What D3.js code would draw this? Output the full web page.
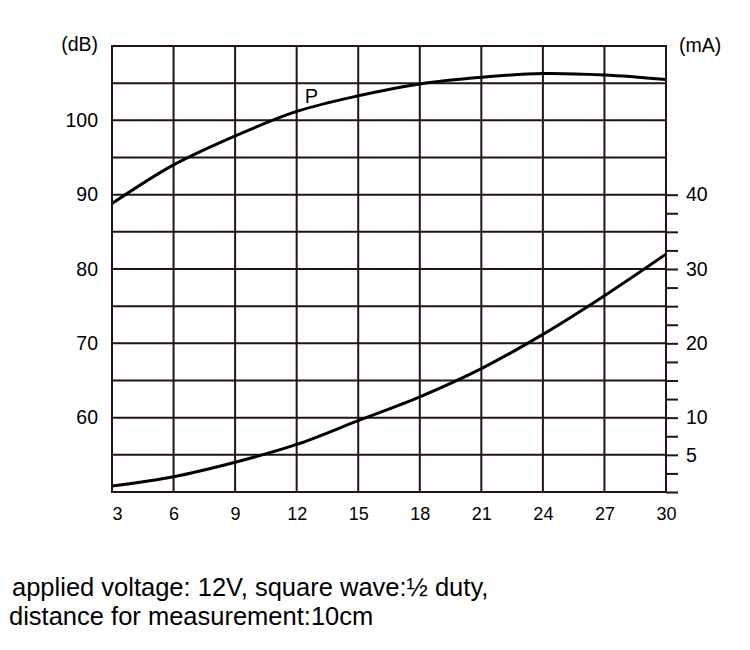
<!DOCTYPE html>
<html>
<head>
<meta charset="utf-8">
<script src="https://cdn.jsdelivr.net/npm/d3@7"></script>
<style>
  html, body { margin: 0; padding: 0; background: #fff; }
  svg { display: block; font-family: "Liberation Sans", Arial, Helvetica, sans-serif; }
</style>
</head>
<body>
<svg id="chart" width="750" height="650"></svg>
<script>
// ---- data ----
const voltage = [3, 6, 9, 12, 15, 18, 21, 24, 27, 30];
const splDb   = [88.8, 94.0, 97.9, 101.2, 103.3, 104.9, 105.8, 106.3, 106.1, 105.5];
const currentMa = [0.8, 2.05, 4.0, 6.4, 9.6, 12.8, 16.6, 21.2, 26.4, 32.0];
const xTicks = [3, 6, 9, 12, 15, 18, 21, 24, 27, 30];
const dbTickLabels = [60, 70, 80, 90, 100];
const maTickLabels = [5, 10, 20, 30, 40];
const seriesLabel = "P";
const leftUnit = "(dB)";
const rightUnit = "(mA)";
const noteLine1 = "applied voltage: 12V, square wave:\u00BD duty,";
const noteLine2 = "distance for measurement:10cm";

// ---- layout ----
const svg = d3.select("#chart");
const L = 112, R = 666, T = 46, B = 492;
const gridColor = "#231319";
const FONT = "Liberation Sans, Arial, sans-serif";

const x = d3.scaleLinear().domain([3, 30]).range([L, R]);
const yDb = d3.scaleLinear().domain([50, 110]).range([B, T]);
const yMa = d3.scaleLinear().domain([0, 60]).range([B, T]);

// grid
const grid = svg.append("g");
grid.selectAll("line.v").data(xTicks).join("line")
  .attr("x1", d => x(d)).attr("x2", d => x(d))
  .attr("y1", T).attr("y2", B)
  .attr("stroke", gridColor).attr("stroke-width", 2);
grid.selectAll("line.h").data(d3.range(50, 111, 5)).join("line")
  .attr("x1", L).attr("x2", R)
  .attr("y1", d => yDb(d)).attr("y2", d => yDb(d))
  .attr("stroke", gridColor).attr("stroke-width", 2);

// left axis labels
const leftAxis = d3.axisLeft(yDb).tickValues(dbTickLabels).tickSize(0).tickPadding(14);
const gl = svg.append("g").attr("transform", `translate(${L},0)`).call(leftAxis);
gl.select(".domain").remove();
gl.attr("font-size", 19.5).attr("font-family", FONT);
gl.selectAll("text").attr("fill", "#000");

// right axis: minor ticks every 2.5 mA
const rightAxis = d3.axisRight(yMa).tickValues(d3.range(0, 40.1, 2.5)).tickSize(12).tickPadding(8)
  .tickFormat(d => maTickLabels.includes(d) ? d : "");
const gr = svg.append("g").attr("transform", `translate(${R},0)`).call(rightAxis);
gr.select(".domain").remove();
gr.attr("font-size", 19.5).attr("font-family", FONT);
gr.selectAll("line").attr("stroke", gridColor).attr("stroke-width", 2);
gr.selectAll("text").attr("fill", "#000");

// bottom axis labels
const bottomAxis = d3.axisBottom(x).tickValues(xTicks).tickSize(0).tickPadding(15);
const gb = svg.append("g").attr("transform", `translate(0,${B})`).call(bottomAxis);
gb.select(".domain").remove();
gb.attr("font-size", 18).attr("font-family", FONT);
gb.selectAll("text").attr("fill", "#000");
gb.selectAll(".tick").filter(d => d === 3).select("text").attr("text-anchor", "start");

// curves
const line = (yScale, vals) => d3.line()
  .x((d, i) => x(voltage[i])).y((d) => yScale(d))
  .curve(d3.curveCatmullRom.alpha(0.5))(vals);

svg.append("path").attr("d", line(yDb, splDb))
  .attr("fill", "none").attr("stroke", "#000").attr("stroke-width", 3);
svg.append("path").attr("d", line(yMa, currentMa))
  .attr("fill", "none").attr("stroke", "#000").attr("stroke-width", 3);

// frame
svg.append("rect").attr("x", L).attr("y", T).attr("width", R - L).attr("height", B - T)
  .attr("fill", "none").attr("stroke", gridColor).attr("stroke-width", 2);

// series label
svg.append("text").attr("x", x(12) + 8).attr("y", 103).attr("font-size", 20).text(seriesLabel);

// unit labels
svg.append("text").attr("x", 98).attr("y", 51).attr("text-anchor", "end")
  .attr("font-size", 19.5).text(leftUnit);
svg.append("text").attr("x", 679).attr("y", 52)
  .attr("font-size", 19.5).text(rightUnit);

// notes
svg.append("text").attr("x", 12).attr("y", 596).attr("font-size", 25.5).text(noteLine1);
svg.append("text").attr("x", 9).attr("y", 625).attr("font-size", 25.5).text(noteLine2);
</script>
</body>
</html>
